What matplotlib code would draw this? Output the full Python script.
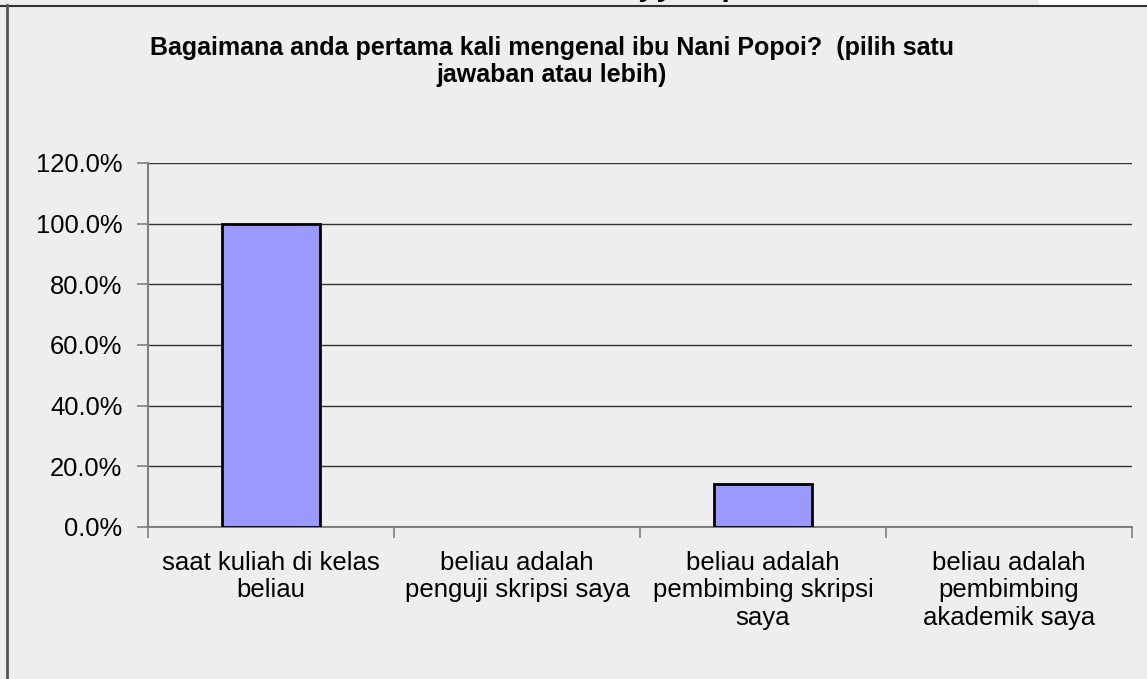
import matplotlib
matplotlib.use("Agg")
import matplotlib.pyplot as plt
import numpy as np

# data
categories = ["saat kuliah di kelas\nbeliau",
              "beliau adalah\npenguji skripsi saya",
              "beliau adalah\npembimbing skripsi\nsaya",
              "beliau adalah\npembimbing\nakademik saya"]
values = [100.0, 0.0, 14.3, 0.0]
yticks = [0, 20, 40, 60, 80, 100, 120]
title = "Bagaimana anda pertama kali mengenal ibu Nani Popoi?  (pilih satu\njawaban atau lebih)"

plt.rcParams['font.family'] = ['Liberation Sans', 'DejaVu Sans']

W, H = 1147, 679
fig = plt.figure(figsize=(W / 100, H / 100), dpi=100, facecolor="#EEEEEE")

# strip of the page above the chart frame (cut-off heading)
top = fig.add_axes([0, 1 - 5 / H, 1039 / W, 5 / H])
top.set_facecolor("#DDDDDD")
top.set_xlim(0, 1039)
top.set_ylim(0, 5)
top.axis("off")
top.patch.set_visible(True)
fig.patches.append(plt.Rectangle((1039 / W, 1 - 5 / H), 1 - 1039 / W, 5 / H,
                                 transform=fig.transFigure, color="white", zorder=0))
for xx, ch in [(640, "y"), (658, "y"), (724, "p")]:
    top.text(xx, 10, ch, fontsize=22, fontweight="bold", style="italic",
             va="baseline", ha="left", clip_on=True)

# frame lines
fig.add_artist(plt.Line2D([0, 1], [1 - 5.5 / H] * 2, transform=fig.transFigure,
                          color="#333333", lw=1.5))
fig.add_artist(plt.Line2D([7.5 / W] * 2, [0, 1 - 5 / H], transform=fig.transFigure,
                          color="#555555", lw=2))

ax = fig.add_axes([148 / W, 1 - 527 / H, (1132 - 148) / W, (527 - 163) / H])
ax.set_facecolor("#EEEEEE")
x = np.arange(len(categories))
lws = [2 if v > 0 else 0 for v in values]
ax.bar(x, values, width=0.4, color="#9999FF", edgecolor="black", linewidth=lws, zorder=3)

ax.set_xlim(-0.5, len(categories) - 0.5)
ax.set_ylim(0, 120)
ax.set_yticks(yticks)
ax.set_yticklabels([f"{v:.1f}%" for v in yticks], fontsize=18.4)
for v in yticks[1:]:
    ax.axhline(v, color="#333333", lw=1, zorder=1)

ax.set_xticks(x)
ax.set_xticklabels(categories, fontsize=18.5, linespacing=1.2)
ax.tick_params(axis="x", length=0, pad=17)
ax.set_xticks(np.arange(-0.5, len(categories)), minor=True)
ax.tick_params(axis="x", which="minor", length=8, color="#808080", width=1.2)
ax.tick_params(axis="y", length=8, color="#808080", width=1.2, pad=10.5)

for s in ["top", "right"]:
    ax.spines[s].set_visible(False)
ax.spines["left"].set_color("#808080")
ax.spines["left"].set_linewidth(1.5)
ax.spines["bottom"].set_color("#808080")
ax.spines["bottom"].set_linewidth(1.5)

fig.text(552 / W, 1 - 61.5 / H, title, ha="center", va="center", fontsize=18,
         fontweight="bold", linespacing=1.18)

fig.savefig("out.png", dpi=100, facecolor=fig.get_facecolor())
